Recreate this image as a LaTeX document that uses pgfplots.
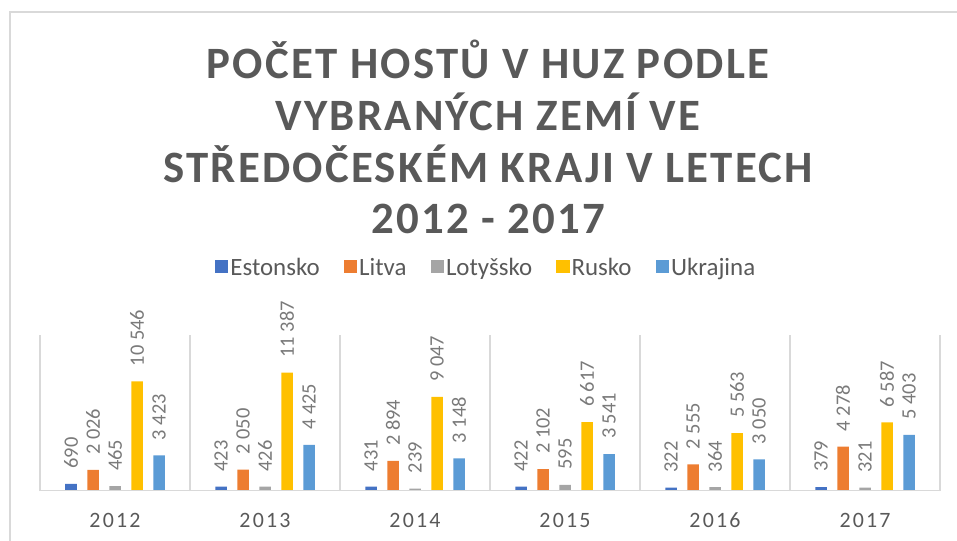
\documentclass[border=0pt]{standalone}
\usepackage{pgfplots}
\pgfplotsset{compat=1.18}
\usepackage{fontspec}
\setmainfont{Carlito}
\newfontfamily\titlefont[LetterSpace=5]{Carlito}
\newfontfamily\axisfont[LetterSpace=10]{Carlito}
\definecolor{cEst}{HTML}{4472C4}
\definecolor{cLit}{HTML}{ED7D31}
\definecolor{cLot}{HTML}{A5A5A5}
\definecolor{cRus}{HTML}{FFC000}
\definecolor{cUkr}{HTML}{5B9BD5}
\definecolor{txt}{HTML}{595959}
\definecolor{lbl}{HTML}{7A7A7A}
\definecolor{gridc}{HTML}{D9D9D9}
\begin{document}
\begin{tikzpicture}
\useasboundingbox (0bp,0bp) rectangle (957bp,541bp);
\draw[gridc, line width=1.3bp] (10bp,0bp) -- (10bp,529bp) -- (957bp,529bp);
\node[align=center, text=txt, font={\titlefont\bfseries\fontsize{45}{52}\selectfont}] at (488bp,404bp)
  {POČET HOSTŮ V HUZ PODLE\\VYBRANÝCH ZEMÍ VE\\STŘEDOČESKÉM KRAJI V LETECH\\2012 - 2017};
\begin{axis}[
  at={(40bp,50bp)}, anchor=south west,
  scale only axis, width=900bp, height=156bp,
  xmin=-0.5, xmax=5.5, ymin=0, ymax=15000,
  ybar=10.5bp, bar width=11.5bp,
  axis line style={draw=none},
  ytick=\empty,
  xtick={0,...,5},
  xticklabels={2012,2013,2014,2015,2016,2017},
  major tick length=0pt, minor tick length=0pt,
  minor xtick={-0.5,0.5,...,5.5},
  xminorgrids=true,
  minor x grid style={gridc, line width=1.3bp},
  xticklabel style={anchor=base, yshift=-36bp, text=txt, font={\axisfont\fontsize{22}{26}\selectfont}},
  /pgf/number format/.cd, fixed, precision=0, 1000 sep={\ }, assume math mode=true,
  /pgfplots/.cd,
  nodes near coords,
  nodes near coords style={rotate=90, anchor=west, inner xsep=15bp, inner ysep=0pt, text=lbl, font={\fontsize{20.5}{24}\selectfont}},
  legend columns=-1,
  legend style={draw=none, fill=none, at={(0.4956,1.4295)}, anchor=center,
    font={\fontsize{25}{29}\selectfont}, text=txt, nodes={inner xsep=2bp}},
  legend image code/.code={\fill[#1] (0bp,-5.5bp) rectangle (13.5bp,8bp);},
]
\addplot[fill=cEst, draw=none] coordinates {(0,690) (1,423) (2,431) (3,422) (4,322) (5,379)};
\addplot[fill=cLit, draw=none] coordinates {(0,2026) (1,2050) (2,2894) (3,2102) (4,2555) (5,4278)};
\addplot[fill=cLot, draw=none] coordinates {(0,465) (1,426) (2,239) (3,595) (4,364) (5,321)};
\addplot[fill=cRus, draw=none] coordinates {(0,10546) (1,11387) (2,9047) (3,6617) (4,5563) (5,6587)};
\addplot[fill=cUkr, draw=none] coordinates {(0,3423) (1,4425) (2,3148) (3,3541) (4,3050) (5,5403)};
\legend{Estonsko\kern22bp,Litva\kern22bp,Lotyšsko\kern22bp,Rusko\kern22bp,Ukrajina}
\draw[gridc, line width=1.3bp] (axis cs:-0.5,0) -- (axis cs:5.5,0);
\end{axis}
\end{tikzpicture}
\end{document}
